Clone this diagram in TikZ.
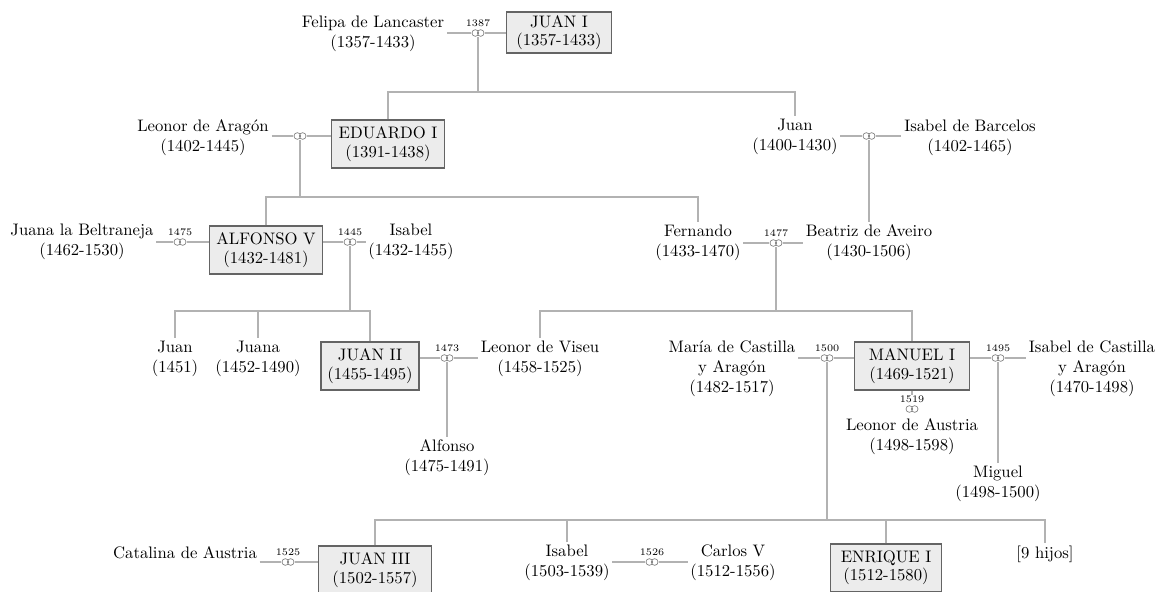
\documentclass[tikz,border=0pt]{standalone}
\usepackage{tikz}
\definecolor{kingfill}{RGB}{236,236,236}
\definecolor{kingedge}{RGB}{100,100,100}
\definecolor{treeline}{RGB}{178,178,178}
\definecolor{ringline}{RGB}{125,125,125}
\tikzset{
  king/.style={draw=kingedge, fill=kingfill, line width=0.9pt, align=center,
    minimum width=68pt, minimum height=28.8pt, inner sep=1pt,
    font=\fontsize{10}{11}\selectfont},
  person/.style={align=center, inner sep=1.5pt, font=\fontsize{10}{12}\selectfont},
  wed/.style={inner sep=0pt, minimum width=7.8pt, minimum height=4.8pt,
    path picture={\draw[ringline, line width=0.4pt]
      ([xshift=-1.6pt]path picture bounding box.center) circle (2pt)
      ([xshift=1.6pt]path picture bounding box.center) circle (2pt);}},
  yearlab/.style={font=\fontsize{6}{6}\selectfont, inner sep=0.3pt, label distance=0.8pt},
  tree/.style={draw=treeline, line width=0.8pt},
}
\begin{document}
\begin{tikzpicture}[x=0.6pt,y=-0.6pt]
  \clip (0,0) rectangle (1158,591);
  % first generation
  \node[person] (felipa) at (373,34) {Felipa de Lancaster\\(1357-1433)};
  \node[wed, label={[yearlab]above:1387}] (m1) at (478,33) {};
  \node[king, minimum width=63pt, minimum height=24.6pt] (juan1) at (559,32.5) {JUAN I\\(1357-1433)};
  \coordinate (bar1) at (478,92);
  % second generation
  \node[person] (leonora) at (203,137.5) {Leonor de Aragón\\(1402-1445)};
  \node[wed] (m2) at (300,136) {};
  \node[king] (eduardo) at (388,144) {EDUARDO I\\(1391-1438)};
  \node[person] (juanb) at (795,137) {Juan\\(1400-1430)};
  \node[wed] (m3) at (869,136) {};
  \node[person] (isabelb) at (970,137.5) {Isabel de Barcelos\\(1402-1465)};
  \coordinate (bar2) at (300,197);
  % third generation
  \node[person] (beltraneja) at (82,242) {Juana la Beltraneja\\(1462-1530)};
  \node[wed, label={[yearlab]above:1475}] (m4) at (180,242) {};
  \node[king] (alfonso) at (266,250) {ALFONSO V\\(1432-1481)};
  \node[wed, label={[yearlab]above:1445}] (m5) at (350,242) {};
  \node[person] (isabel) at (411,242) {Isabel\\(1432-1455)};
  \node[person] (fernando) at (698,242.5) {Fernando\\(1433-1470)};
  \node[wed, label={[yearlab]above:1477}] (m6) at (776,243) {};
  \node[person] (beatriz) at (869,242.5) {Beatriz de Aveiro\\(1430-1506)};
  \coordinate (bar3) at (350,311);
  \coordinate (bar4) at (776,311);
  % fourth generation
  \node[person] (juan51) at (175,358.5) {Juan\\(1451)};
  \node[person] (juana) at (258,358.5) {Juana\\(1452-1490)};
  \node[king, minimum width=58.8pt] (juan2) at (370,366) {JUAN II\\(1455-1495)};
  \node[wed, label={[yearlab]above:1473}] (m7) at (447,358) {};
  \node[person] (viseu) at (540,358.5) {Leonor de Viseu\\(1458-1525)};
  \node[person] (alfonso2) at (447,457.5) {Alfonso\\(1475-1491)};
  \node[person] (maria) at (732,368.5) {María de Castilla\\y Aragón\\(1482-1517)};
  \node[wed, label={[yearlab]above:1500}] (m8) at (827,358) {};
  \node[king, minimum width=69pt] (manuel) at (912,366) {MANUEL I\\(1469-1521)};
  \node[wed, label={[yearlab]above:1495}] (m9) at (998,358) {};
  \node[person] (isabelc) at (1092,368.5) {Isabel de Castilla\\y Aragón\\(1470-1498)};
  \node[wed, label={[yearlab, name=y1519]above:1519}] (m10) at (912,409) {};
  \node[person] (austria) at (912,436.5) {Leonor de Austria\\(1498-1598)};
  \node[person] (miguel) at (998,483.5) {Miguel\\(1498-1500)};
  \coordinate (bar5) at (827,520);
  % fifth generation
  \node[person] (catalina) at (185,553) {Catalina de Austria};
  \node[wed, label={[yearlab]above:1525}] (m11) at (288,562) {};
  \node[king] (juan3) at (375,570) {JUAN III\\(1502-1557)};
  \node[person] (isabel2) at (567,563) {Isabel\\(1503-1539)};
  \node[wed, label={[yearlab]above:1526}] (m12) at (652,562) {};
  \node[person] (carlos) at (733,563) {Carlos V\\(1512-1556)};
  \node[king, minimum width=66.6pt] (enrique) at (886,568) {ENRIQUE I\\(1512-1580)};
  \node[person] (hijos) at (1045,554) {[9 hijos]};
  % connectors
  \draw[tree] (m1 -| felipa.east) -- (m1.west) (m1.east) -- (m1 -| juan1.west);
  \draw[tree] (m1.south) -- (bar1);
  \draw[tree] (eduardo.north) |- (bar1) -| (juanb.north);
  \draw[tree] (m2 -| leonora.east) -- (m2.west) (m2.east) -- (m2 -| eduardo.west);
  \draw[tree] (m3 -| juanb.east) -- (m3.west) (m3.east) -- (m3 -| isabelb.west);
  \draw[tree] (m2.south) -- (bar2);
  \draw[tree] (alfonso.north) |- (bar2) -| (fernando.north);
  \draw[tree] (m3.south) -- (beatriz.north);
  \draw[tree] (m4 -| beltraneja.east) -- (m4.west) (m4.east) -- (m4 -| alfonso.west);
  \draw[tree] (m5 -| alfonso.east) -- (m5.west) (m5.east) -- (m5 -| isabel.west);
  \draw[tree] (m6 -| fernando.east) -- (m6.west) (m6.east) -- (m6 -| beatriz.west);
  \draw[tree] (m5.south) -- (bar3);
  \draw[tree] (juan51.north) |- (bar3) -| (juan2.north);
  \draw[tree] (juana.north) -- (juana.north |- bar3);
  \draw[tree] (m6.south) -- (bar4);
  \draw[tree] (viseu.north) |- (bar4) -| (manuel.north);
  \draw[tree] (m7 -| juan2.east) -- (m7.west) (m7.east) -- (m7 -| viseu.west);
  \draw[tree] (m7.south) -- (alfonso2.north);
  \draw[tree] (m8 -| maria.east) -- (m8.west) (m8.east) -- (m8 -| manuel.west);
  \draw[tree] (m9 -| manuel.east) -- (m9.west) (m9.east) -- (m9 -| isabelc.west);
  \draw[tree] (manuel.south) -- (y1519.north);
  \draw[tree] (m9.south) -- (miguel.north);
  \draw[tree] (m8.south) -- (bar5);
  \draw[tree] (juan3.north) |- (bar5) -| (hijos.north);
  \draw[tree] (isabel2.north) -- (isabel2.north |- bar5);
  \draw[tree] (enrique.north) -- (enrique.north |- bar5);
  \draw[tree] (m11 -| catalina.east) -- (m11.west) (m11.east) -- (m11 -| juan3.west);
  \draw[tree] (m12 -| isabel2.east) -- (m12.west) (m12.east) -- (m12 -| carlos.west);
\end{tikzpicture}
\end{document}
